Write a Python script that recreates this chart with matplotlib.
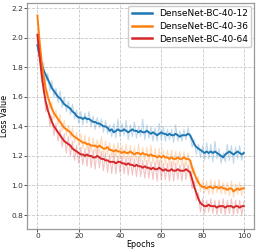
import numpy as np
import matplotlib
matplotlib.use('Agg')
import matplotlib.pyplot as plt

epochs = np.arange(0, 101)

# smoothed curves
b12 = [1.95,1.88,1.82,1.78,1.75,1.72,1.69,1.66,1.64,1.62,1.60,1.59,1.57,1.55,1.54,1.53,1.52,1.50,1.49,1.47,
       1.46,1.46,1.45,1.46,1.45,1.45,1.44,1.43,1.43,1.42,1.42,1.41,1.40,1.40,1.39,1.37,1.38,1.36,1.37,1.38,
       1.37,1.37,1.38,1.37,1.36,1.37,1.38,1.37,1.37,1.36,1.37,1.36,1.36,1.37,1.36,1.35,1.36,1.35,1.34,1.35,
       1.36,1.35,1.35,1.34,1.35,1.34,1.34,1.35,1.34,1.33,1.34,1.34,1.34,1.35,1.34,1.31,1.28,1.26,1.25,1.24,
       1.23,1.22,1.23,1.22,1.23,1.22,1.23,1.22,1.21,1.20,1.19,1.21,1.22,1.23,1.22,1.21,1.22,1.23,1.22,1.21,1.22]
b36 = [2.15,1.98,1.85,1.74,1.66,1.60,1.56,1.52,1.49,1.47,1.45,1.43,1.41,1.39,1.38,1.37,1.36,1.34,1.33,1.32,
       1.31,1.30,1.29,1.29,1.28,1.28,1.27,1.27,1.27,1.26,1.27,1.26,1.25,1.25,1.26,1.24,1.24,1.23,1.24,1.23,
       1.23,1.22,1.23,1.22,1.22,1.23,1.22,1.21,1.22,1.22,1.21,1.22,1.21,1.21,1.20,1.21,1.20,1.20,1.19,1.20,
       1.19,1.20,1.19,1.19,1.18,1.19,1.18,1.18,1.19,1.18,1.18,1.19,1.18,1.18,1.17,1.12,1.08,1.05,1.02,1.00,
       0.99,0.99,0.98,0.99,0.99,0.98,0.99,0.99,0.98,0.99,0.98,0.98,0.97,0.98,0.98,0.96,0.97,0.98,0.97,0.98,0.98]
b64 = [2.02,1.88,1.76,1.65,1.57,1.51,1.47,1.43,1.40,1.38,1.36,1.34,1.32,1.30,1.29,1.28,1.27,1.25,1.24,1.23,
       1.22,1.21,1.21,1.20,1.21,1.20,1.20,1.19,1.19,1.20,1.19,1.18,1.18,1.17,1.17,1.16,1.16,1.16,1.15,1.16,
       1.16,1.15,1.15,1.14,1.15,1.14,1.14,1.13,1.14,1.13,1.13,1.12,1.13,1.12,1.12,1.11,1.12,1.11,1.11,1.12,
       1.11,1.10,1.11,1.10,1.10,1.11,1.10,1.10,1.11,1.10,1.10,1.10,1.11,1.10,1.09,1.04,0.99,0.95,0.91,0.88,
       0.87,0.86,0.86,0.87,0.86,0.86,0.86,0.85,0.86,0.86,0.86,0.85,0.86,0.86,0.86,0.85,0.86,0.86,0.85,0.86,0.86]

# raw (noisy) curves
r12 = [1.93,1.90,1.78,1.83,1.70,1.76,1.64,1.71,1.60,1.66,1.56,1.64,1.53,1.60,1.50,1.57,1.48,1.55,1.45,1.51,
       1.42,1.50,1.41,1.49,1.42,1.50,1.40,1.47,1.38,1.46,1.39,1.45,1.36,1.44,1.35,1.41,1.33,1.42,1.32,1.45,
       1.33,1.42,1.34,1.44,1.31,1.41,1.33,1.43,1.32,1.40,1.33,1.45,1.31,1.41,1.32,1.40,1.30,1.39,1.30,1.42,
       1.31,1.40,1.30,1.38,1.31,1.38,1.29,1.41,1.30,1.37,1.30,1.38,1.31,1.39,1.33,1.26,1.31,1.21,1.28,1.19,
       1.27,1.17,1.29,1.18,1.28,1.16,1.30,1.18,1.25,1.15,1.22,1.16,1.28,1.17,1.27,1.15,1.26,1.18,1.27,1.17,1.23]
r36 = [2.12,2.02,1.80,1.78,1.62,1.64,1.52,1.56,1.45,1.51,1.41,1.48,1.37,1.44,1.34,1.41,1.32,1.39,1.29,1.36,
       1.27,1.35,1.25,1.34,1.24,1.33,1.23,1.32,1.22,1.31,1.22,1.33,1.20,1.30,1.21,1.29,1.19,1.28,1.19,1.29,
       1.18,1.27,1.18,1.28,1.17,1.27,1.17,1.26,1.17,1.28,1.16,1.26,1.16,1.26,1.15,1.27,1.15,1.25,1.14,1.25,
       1.14,1.24,1.14,1.24,1.13,1.24,1.13,1.23,1.14,1.23,1.13,1.23,1.13,1.22,1.14,1.08,1.12,1.01,1.06,0.96,
       1.03,0.95,1.03,0.94,1.04,0.94,1.03,0.95,1.04,0.94,1.02,0.94,1.02,0.93,1.03,0.92,1.01,0.94,1.02,0.93,1.00]
r64 = [2.00,1.90,1.70,1.69,1.50,1.55,1.40,1.47,1.34,1.42,1.30,1.38,1.26,1.35,1.22,1.33,1.20,1.30,1.17,1.27,
       1.15,1.26,1.14,1.25,1.13,1.27,1.12,1.24,1.11,1.26,1.12,1.23,1.10,1.22,1.09,1.21,1.08,1.22,1.08,1.20,
       1.09,1.20,1.08,1.19,1.07,1.19,1.07,1.18,1.06,1.19,1.06,1.17,1.05,1.17,1.05,1.16,1.04,1.16,1.03,1.17,
       1.04,1.15,1.04,1.15,1.03,1.16,1.03,1.15,1.04,1.14,1.03,1.15,1.04,1.14,1.05,0.98,1.03,0.90,0.95,0.82,
       0.91,0.81,0.90,0.82,0.91,0.81,0.90,0.80,0.90,0.81,0.91,0.80,0.90,0.81,0.91,0.80,0.90,0.81,0.90,0.80,0.89]

names = ['DenseNet-BC-40-12', 'DenseNet-BC-40-36', 'DenseNet-BC-40-64']
colors = ['#1f77b4', '#ff7f0e', '#d62728']

fig = plt.figure(figsize=(2.58, 2.52), dpi=100)
ax = fig.add_axes([0.105, 0.091, 0.88, 0.897])

for raw, smooth, c, n in zip([r12, r36, r64], [b12, b36, b64], colors, names):
    ax.plot(epochs, raw, color=c, alpha=0.28, lw=0.8)
    ax.plot(epochs, smooth, color=c, lw=1.4, label=n)

ax.set_xlim(-5, 105)
ax.set_ylim(0.705, 2.235)
ax.set_xticks([0, 20, 40, 60, 80, 100])
ax.set_yticks([0.8, 1.0, 1.2, 1.4, 1.6, 1.8, 2.0, 2.2])
ax.grid(True, ls='--', color='#c8c8c8', lw=0.6)
ax.tick_params(labelsize=5.3, length=2, width=0.6, pad=1, colors='#333333')
for s in ax.spines.values():
    s.set_color('#999999')
    s.set_linewidth(0.9)
ax.set_xlabel('Epochs', fontsize=5.8, labelpad=0.5)
ax.set_ylabel('Loss Value', fontsize=5.8, labelpad=1.5)
leg = ax.legend(loc='upper right', fontsize=6.5, handlelength=2.3, borderpad=0.4,
                labelspacing=0.4, handletextpad=0.7, framealpha=1, borderaxespad=0.3)
for l in leg.get_lines():
    l.set_linewidth(1.8)

fig.savefig('out.png', dpi=100)
